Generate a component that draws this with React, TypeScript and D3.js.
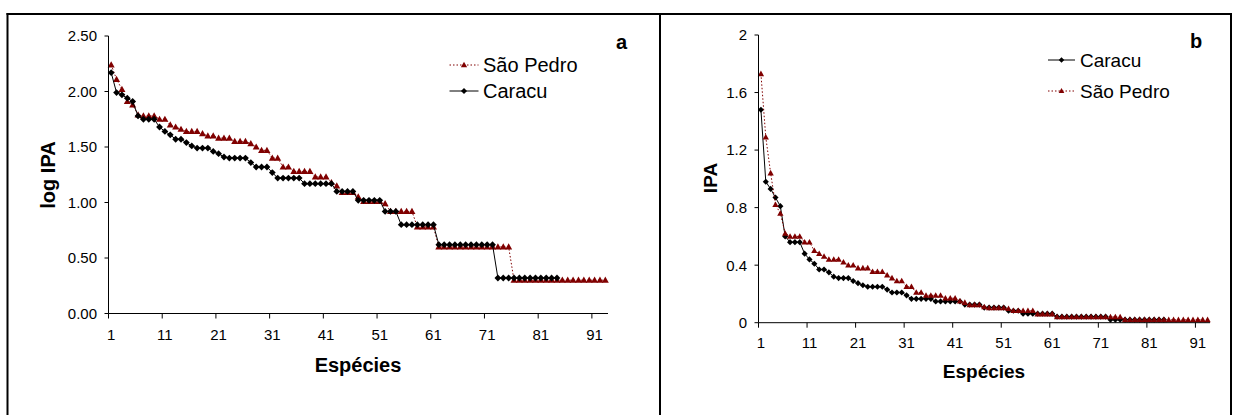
import React from "react";
import * as d3 from "d3";

// ---------- data ----------
const categoryTicks = [1, 11, 21, 31, 41, 51, 61, 71, 81, 91];

const logTicks = [0, 0.5, 1, 1.5, 2, 2.5];
const ipaTicks = [0, 0.4, 0.8, 1.2, 1.6, 2];
const ipaTickLabels = ["0", "0.4", "0.8", "1.2", "1.6", "2"];

// Panel a: log IPA
const caracuLog = [
  2.17, 1.99, 1.97, 1.94, 1.91, 1.78, 1.75, 1.75, 1.75, 1.68,
  1.64, 1.61, 1.57, 1.57, 1.54, 1.51, 1.49, 1.49, 1.49, 1.46,
  1.44, 1.41, 1.40, 1.40, 1.40, 1.40, 1.36, 1.32, 1.32, 1.32,
  1.27, 1.22, 1.22, 1.22, 1.22, 1.22, 1.17, 1.17, 1.17, 1.17,
  1.17, 1.17, 1.10, 1.10, 1.10, 1.10, 1.02, 1.02, 1.02, 1.02,
  1.02, 0.92, 0.92, 0.92, 0.80, 0.80, 0.80, 0.80, 0.80, 0.80,
  0.80, 0.62, 0.62, 0.62, 0.62, 0.62, 0.62, 0.62, 0.62, 0.62,
  0.62, 0.62, 0.32, 0.32, 0.32, 0.32, 0.32, 0.32, 0.32, 0.32,
  0.32, 0.32, 0.32, 0.32,
];
const saoPedroLog = [
  2.24, 2.11, 2.02, 1.91, 1.88, 1.79, 1.78, 1.78, 1.78, 1.75,
  1.75, 1.70, 1.68, 1.66, 1.64, 1.64, 1.64, 1.62, 1.60, 1.60,
  1.58, 1.58, 1.58, 1.55, 1.55, 1.55, 1.53, 1.50, 1.47, 1.47,
  1.40, 1.40, 1.32, 1.32, 1.28, 1.28, 1.28, 1.28, 1.23, 1.23,
  1.23, 1.18, 1.15, 1.09, 1.09, 1.09, 1.05, 1.01, 1.01, 1.01,
  1.01, 0.99, 0.92, 0.92, 0.92, 0.92, 0.92, 0.78, 0.78, 0.78,
  0.78, 0.60, 0.60, 0.60, 0.60, 0.60, 0.60, 0.60, 0.60, 0.60,
  0.60, 0.60, 0.60, 0.60, 0.60, 0.30, 0.30, 0.30, 0.30, 0.30,
  0.30, 0.30, 0.30, 0.30, 0.30, 0.30, 0.30, 0.30, 0.30, 0.30,
  0.30, 0.30, 0.30,
];

// Panel b: IPA
const caracuIPA = [
  1.48, 0.98, 0.93, 0.87, 0.81, 0.60, 0.56, 0.56, 0.56, 0.48,
  0.44, 0.41, 0.37, 0.37, 0.35, 0.32, 0.31, 0.31, 0.31, 0.29,
  0.275, 0.26, 0.25, 0.25, 0.25, 0.25, 0.23, 0.21, 0.21, 0.21,
  0.19, 0.166, 0.166, 0.166, 0.166, 0.166, 0.148, 0.148, 0.148, 0.148,
  0.148, 0.148, 0.126, 0.126, 0.126, 0.126, 0.105, 0.105, 0.105, 0.105,
  0.105, 0.083, 0.083, 0.083, 0.063, 0.063, 0.063, 0.063, 0.063, 0.063,
  0.063, 0.042, 0.042, 0.042, 0.042, 0.042, 0.042, 0.042, 0.042, 0.042,
  0.042, 0.042, 0.021, 0.021, 0.021, 0.021, 0.021, 0.021, 0.021, 0.021,
  0.021, 0.021, 0.021, 0.021,
];
const saoPedroIPA = [
  1.73, 1.29, 1.04, 0.82, 0.76, 0.62, 0.60, 0.60, 0.60, 0.56,
  0.56, 0.50, 0.48, 0.46, 0.44, 0.44, 0.44, 0.42, 0.40, 0.40,
  0.38, 0.38, 0.38, 0.355, 0.355, 0.355, 0.33, 0.31, 0.29, 0.29,
  0.25, 0.25, 0.21, 0.21, 0.19, 0.19, 0.19, 0.19, 0.17, 0.17,
  0.17, 0.15, 0.14, 0.123, 0.123, 0.123, 0.11, 0.103, 0.103, 0.103,
  0.103, 0.097, 0.083, 0.083, 0.083, 0.083, 0.083, 0.06, 0.06, 0.06,
  0.06, 0.04, 0.04, 0.04, 0.04, 0.04, 0.04, 0.04, 0.04, 0.04,
  0.04, 0.04, 0.04, 0.04, 0.04, 0.02, 0.02, 0.02, 0.02, 0.02,
  0.02, 0.02, 0.02, 0.02, 0.02, 0.02, 0.02, 0.02, 0.02, 0.02,
  0.02, 0.02, 0.02,
];

const N_CATEGORIES = 93;
const FONT = "Arial, 'Liberation Sans', sans-serif";
const RED = "#800000";

type SeriesKind = "caracu" | "saopedro";

function markerPath(kind: SeriesKind, s: number) {
  if (kind === "caracu") {
    const h = 3.4 * s;
    return `M0,${-h}L${h},0L0,${h}L${-h},0Z`;
  }
  const w = 3.5 * s;
  return `M0,${-3.6 * s}L${w},${2.6 * s}L${-w},${2.6 * s}Z`;
}

interface PanelProps {
  xRange: [number, number];
  yDomain: [number, number];
  yRange: [number, number];
  yTicks: number[];
  yTickLabels: string[];
  yLabelX: number;
  xLabelY: number;
  series: { kind: SeriesKind; values: number[] }[];
  legend: { kind: SeriesKind; label: string; y: number }[];
  legendX: [number, number, number]; // line start, line end, text start
  yTitle: string;
  yTitlePos: [number, number];
  xTitlePos: [number, number];
  titleSize: number;
  letter: string;
  letterPos: [number, number];
  markerScale: number;
}

function Panel(p: PanelProps) {
  const x = d3.scaleLinear().domain([0, N_CATEGORIES]).range(p.xRange);
  const y = d3.scaleLinear().domain(p.yDomain).range(p.yRange);
  const axisY = p.yRange[0];
  const axisX = p.xRange[0];
  const tenths = d3.range(0, N_CATEGORIES, 10);

  const line = d3
    .line<number>()
    .x((_, i) => x(i + 0.5))
    .y((d) => y(d));

  const styleFor = (kind: SeriesKind) =>
    kind === "caracu"
      ? { stroke: "#000", fill: "#000", dash: undefined as string | undefined }
      : { stroke: RED, fill: RED, dash: "1.5,2" };

  return (
    <g>
      {/* series */}
      {p.series.map((s) => {
        const st = styleFor(s.kind);
        return (
          <g key={s.kind}>
            <path
              d={line(s.values) || ""}
              fill="none"
              stroke={st.stroke}
              strokeWidth={1}
              strokeDasharray={st.dash}
            />
            {s.values.map((v, i) => (
              <path
                key={i}
                d={markerPath(s.kind, p.markerScale)}
                transform={`translate(${x(i + 0.5)},${y(v)})`}
                fill={st.fill}
                stroke="none"
              />
            ))}
          </g>
        );
      })}

      {/* y axis */}
      <line x1={axisX} x2={axisX} y1={p.yRange[1]} y2={axisY} stroke="#000" strokeWidth={1} />
      {p.yTicks.map((t, i) => (
        <g key={t}>
          <line x1={axisX - 4} x2={axisX} y1={y(t)} y2={y(t)} stroke="#000" />
          <text
            x={p.yLabelX}
            y={y(t)}
            dy="0.36em"
            textAnchor="end"
            fontSize={15}
            fontFamily={FONT}
            fill="#000"
          >
            {p.yTickLabels[i]}
          </text>
        </g>
      ))}

      {/* x axis */}
      <line x1={axisX} x2={p.xRange[1]} y1={axisY} y2={axisY} stroke="#000" strokeWidth={1} />
      {tenths.map((k) => (
        <line key={k} x1={x(k)} x2={x(k)} y1={axisY} y2={axisY + 5} stroke="#000" />
      ))}
      {categoryTicks.map((c) => (
        <text
          key={c}
          x={x(c - 0.5)}
          y={p.xLabelY}
          dy="0.36em"
          textAnchor="middle"
          fontSize={15}
          fontFamily={FONT}
          fill="#000"
        >
          {c}
        </text>
      ))}

      {/* titles */}
      <text
        transform={`translate(${p.yTitlePos[0]},${p.yTitlePos[1]}) rotate(-90)`}
        dy="0.36em"
        textAnchor="middle"
        fontSize={p.titleSize}
        fontWeight="bold"
        fontFamily={FONT}
      >
        {p.yTitle}
      </text>
      <text
        x={p.xTitlePos[0]}
        y={p.xTitlePos[1]}
        dy="0.36em"
        textAnchor="middle"
        fontSize={p.titleSize}
        fontWeight="bold"
        fontFamily={FONT}
      >
        Espécies
      </text>
      <text
        x={p.letterPos[0]}
        y={p.letterPos[1]}
        textAnchor="middle"
        fontSize={20}
        fontWeight="bold"
        fontFamily={FONT}
      >
        {p.letter}
      </text>

      {/* legend */}
      {p.legend.map((l) => {
        const st = styleFor(l.kind);
        const mx = (p.legendX[0] + p.legendX[1]) / 2;
        return (
          <g key={l.kind}>
            <line
              x1={p.legendX[0]}
              x2={p.legendX[1]}
              y1={l.y}
              y2={l.y}
              stroke={st.stroke}
              strokeDasharray={st.dash}
            />
            <path d={markerPath(l.kind, p.markerScale * 0.9)} transform={`translate(${mx},${l.y})`} fill={st.fill} />
            <text
              x={p.legendX[2]}
              y={l.y}
              dy="0.36em"
              fontSize={p.titleSize}
              fontFamily={FONT}
              fill="#000"
            >
              {l.label}
            </text>
          </g>
        );
      })}
    </g>
  );
}

export default function App() {
  return (
    <svg
      width={1233}
      height={415}
      style={{ position: "absolute", left: 0, top: 0, background: "#fff" }}
    >
      <rect x={0} y={0} width={1233} height={415} fill="#fff" />
      {/* frame */}
      <line x1={6.5} x2={1232} y1={14} y2={14} stroke="#000" strokeWidth={2} />
      <line x1={7.5} x2={7.5} y1={13} y2={415} stroke="#000" strokeWidth={2} />
      <line x1={660} x2={660} y1={13} y2={415} stroke="#000" strokeWidth={2} />
      <line x1={1231} x2={1231} y1={13} y2={415} stroke="#000" strokeWidth={2} />

      <Panel
        xRange={[108.5, 608]}
        yDomain={[0, 2.5]}
        yRange={[313.5, 36]}
        yTicks={logTicks}
        yTickLabels={logTicks.map((t) => d3.format(".2f")(t))}
        yLabelX={97}
        xLabelY={335}
        series={[
          { kind: "saopedro", values: saoPedroLog },
          { kind: "caracu", values: caracuLog },
        ]}
        legend={[
          { kind: "saopedro", label: "São Pedro", y: 65 },
          { kind: "caracu", label: "Caracu", y: 91 },
        ]}
        legendX={[449.5, 478.5, 483]}
        yTitle="log IPA"
        yTitlePos={[48, 175]}
        xTitlePos={[358, 365]}
        titleSize={20}
        letter="a"
        letterPos={[621.5, 49]}
        markerScale={1}
      />

      <Panel
        xRange={[758.5, 1210]}
        yDomain={[0, 2]}
        yRange={[322.7, 35]}
        yTicks={ipaTicks}
        yTickLabels={ipaTickLabels}
        yLabelX={747}
        xLabelY={342.7}
        series={[
          { kind: "caracu", values: caracuIPA },
          { kind: "saopedro", values: saoPedroIPA },
        ]}
        legend={[
          { kind: "caracu", label: "Caracu", y: 60 },
          { kind: "saopedro", label: "São Pedro", y: 91 },
        ]}
        legendX={[1048, 1075, 1080]}
        yTitle="IPA"
        yTitlePos={[710, 178]}
        xTitlePos={[984, 371]}
        titleSize={19}
        letter="b"
        letterPos={[1196, 48]}
        markerScale={0.9}
      />
    </svg>
  );
}
